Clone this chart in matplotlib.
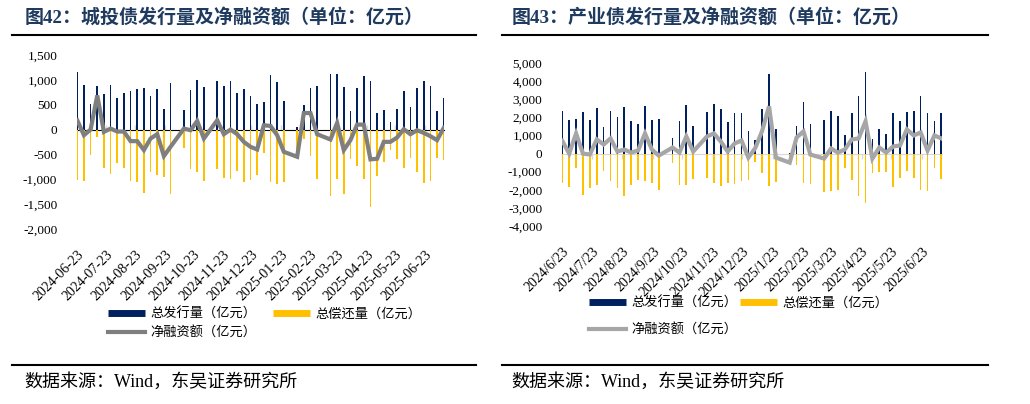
import numpy as np
import pandas as pd
import matplotlib
matplotlib.use('Agg')
import matplotlib.pyplot as plt
from matplotlib.lines import Line2D

plt.rcParams['font.family'] = ['Liberation Serif', 'Noto Sans CJK SC']
plt.rcParams['axes.unicode_minus'] = False

nan = np.nan
# 周度数据，2024-06-23 起
dates = pd.date_range('2024-06-23', periods=56, freq='7D')
month_ticks = pd.date_range('2024-06-23', '2025-06-23', freq=pd.DateOffset(months=1))

# 图42 城投债
ct_issue = [1167, 887, 513, 867, 713, 887, 627, 727, 767, 807, 827, 667, 807, 407, 927, nan,
            387, 787, 1007, 847, nan, 987, 873, 987, 733, 807, 667, 513, 547, 1107, 947, 567, nan,
            47, 487, 827, 867, nan, 1127, 1127, 847, 367, 827, 1087, 967, 327, 387, 147, 407,
            767, 447, 827, 967, 867, 367, 627]
ct_repay = [-1013, -1027, -513, -147, -767, -887, -667, -767, -1027, -1047, -1267, -847, -907, -947,
            -1287, nan, -367, -787, -847, -1027, nan, -787, -967, -993, -833, -1047, -1013, -913,
            -467, -1047, -1087, -1047, nan, -580, -187, -533, -987, nan, -1327, -987, -1287, -587,
            -727, -987, -1567, -927, -647, -407, -587, -767, -567, -847, -1067, -1027, -567, -607]
ct_net = [187, -113, 0, 687, -47, 20, -40, -40, -233, -233, -413, -180, -93, -533, -347, nan,
          20, -13, 173, -180, nan, 187, -93, 0, -93, -247, -347, -400, 87, 73, -113, -447, nan,
          -547, 333, 333, -93, nan, -200, 133, -413, -213, 100, 100, -600, -587, -247, -247, -160,
          7, -93, -13, -67, -133, -213, 33]

# 图43 产业债
cy_issue = [2352, 1852, 1907, 2296, 1852, 2519, 1463, 2352, 2019, 2574, 1796, 1630, 2630, 1852,
            1907, nan, 852, 1796, 2685, 1519, nan, 2296, 2741, 2463, 1741, 2241, 2241, 1241, 741,
            2463, 4407, 1352, nan, 56, 1519, 2852, 1630, nan, 1852, 2352, 2074, 1019, 2241, 3185,
            4519, 796, 1352, 1074, 2241, 1796, 2296, 2352, 3185, 2241, 1796, 2241]
cy_repay = [-1630, -1852, -796, -2296, -1907, -1741, -963, -1519, -1907, -2352, -1741, -1463,
            -1519, -1630, -2019, nan, -519, -1741, -1741, -1407, nan, -1352, -1630, -1796, -1630,
            -1685, -1519, -1463, -463, -1074, -1796, -1574, nan, -556, -630, -1630, -1685, nan,
            -2130, -2074, -2019, -796, -1463, -2352, -2741, -1074, -1019, -1019, -1852, -1352,
            -963, -1352, -2019, -2074, -796, -1407]
cy_net = [700, 0, 1111, 0, -55, 780, 500, 833, 112, 222, 55, 167, 1111, 222, -112, nan, 333, 55,
          944, 112, nan, 944, 1111, 667, 111, 556, 722, -222, 300, 1250, 2611, -222, nan, -500,
          889, 1222, -55, nan, -278, 278, 55, 223, 778, 833, 1778, -278, 333, 55, 389, 444, 1333,
          1000, 1166, 167, 1000, 834]

NAVY = '#002060'
GOLD = '#FFC000'
TITLE_C = '#1F3A5F'
W, H = 1030, 404

fig = plt.figure(figsize=(10.3, 4.04), dpi=100)


def fx(px):
    return px / W


def fy(py):
    return 1 - py / H


def panel(rect, issue, repay, net, ylim, yticks, line_c, ticklab):
    ax = fig.add_axes(rect)
    ax.bar(dates, issue, width=1.7, color=NAVY, antialiased=False, zorder=2)
    ax.bar(dates, repay, width=1.7, color=GOLD, antialiased=False, zorder=2)
    net = np.array(net, dtype=float)
    ok = ~np.isnan(net)
    ax.plot(dates[ok], net[ok], color=line_c, lw=3, solid_joinstyle='miter', zorder=3)
    ax.set_xlim(dates[0] - pd.Timedelta(hours=12), dates[-1] + pd.Timedelta(hours=12))
    ax.set_ylim(*ylim)
    ax.set_yticks(yticks)
    ax.set_yticklabels([f'{v:,}' for v in yticks])
    ax.set_xticks(month_ticks)
    ax.set_xticklabels(ticklab, rotation=45, ha='right', va='top', rotation_mode='anchor')
    for s in ax.spines.values():
        s.set_visible(False)
    ax.tick_params(axis='y', length=0, pad=14, labelsize=9.5)
    ax.tick_params(axis='x', length=0, pad=14, labelsize=10)
    # 零轴及刻度
    frac = (0 - ylim[0]) / (ylim[1] - ylim[0])
    sec = ax.secondary_xaxis(frac)
    sec.set_xticks(month_ticks)
    sec.set_xticklabels([])
    sec.spines['bottom'].set_color('#D9D9D9')
    sec.tick_params(length=3.5, color='#D9D9D9', width=1)
    return ax


ax1 = panel([fx(76.8), fy(229), fx(444.2) - fx(76.8), (229 - 55) / H],
            ct_issue, ct_repay, ct_net, (-2000, 1500), list(range(-2000, 1501, 500)),
            '#7F7F7F', [d.strftime('%Y-%m-%d') for d in month_ticks])
ax2 = panel([fx(561.8), fy(226), fx(941.8) - fx(561.8), (226 - 63) / H],
            cy_issue, cy_repay, cy_net, (-4000, 5000), list(range(-4000, 5001, 1000)),
            '#A6A6A6', [f'{d.year}/{d.month}/{d.day}' for d in month_ticks])

# 标题、分隔线、来源
titles = ['图42：城投债发行量及净融资额（单位：亿元）', '图43：产业债发行量及净融资额（单位：亿元）']
for x0, x1, tx, t in [(12, 476, 25, titles[0]), (502, 988, 512, titles[1])]:
    fig.text(fx(tx), fy(17), t, fontsize=13.7, fontweight='bold', color=TITLE_C, va='center')
    fig.add_artist(Line2D([fx(x0), fx(x1)], [fy(35), fy(35)], color='black', lw=1.5))
    fig.add_artist(Line2D([fx(x0), fx(x1)], [fy(365), fy(365)], color='black', lw=1.5))
    fig.text(fx(tx - 1), fy(382), '数据来源：Wind，东吴证券研究所', fontsize=13, va='center')

# 图例
for ax, lx, ly, lsp, csp, lc in [(ax1, 108, 308, 0.45, 1.3, '#7F7F7F'),
                                 (ax2, 589, 297, 1.0, 0.26, '#A6A6A6')]:
    handles = [Line2D([], [], color=NAVY, lw=5, solid_capstyle='butt'),
               Line2D([], [], color=lc, lw=3),
               Line2D([], [], color=GOLD, lw=5, solid_capstyle='butt')]
    labels = ['总发行量（亿元）', '净融资额（亿元）', '总偿还量（亿元）']
    fig.legend(handles, labels, loc='upper left', bbox_to_anchor=(fx(lx), fy(ly)),
               bbox_transform=fig.transFigure, ncol=2, frameon=False, fontsize=9.5,
               handlelength=2.8, handletextpad=0.38, columnspacing=csp, labelspacing=lsp,
               borderpad=0, borderaxespad=0)

fig.savefig('out.png', dpi=100)
